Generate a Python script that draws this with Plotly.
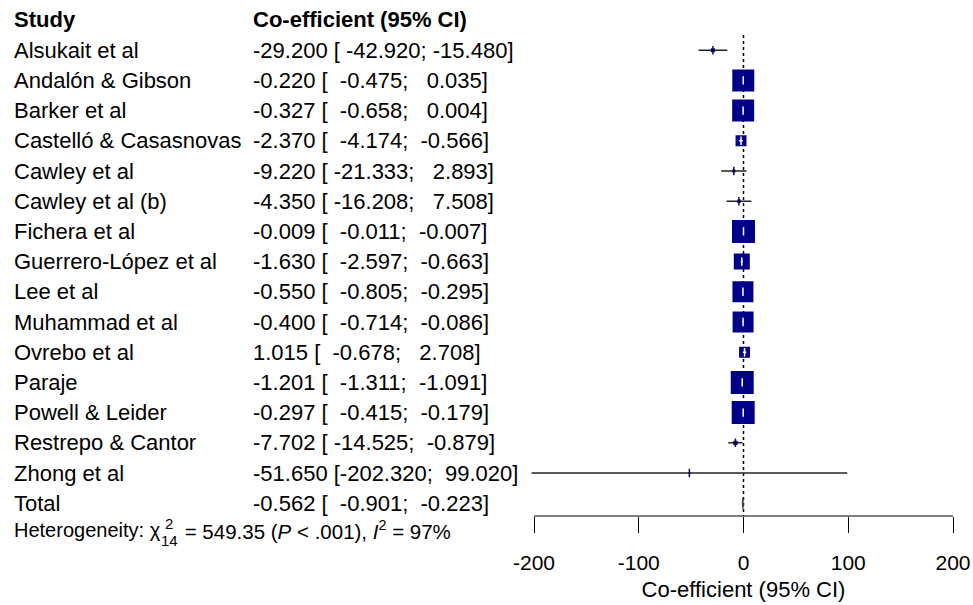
import plotly.graph_objects as go

studies = ["Alsukait et al", "Andalón & Gibson", "Barker et al", "Castelló & Casasnovas",
           "Cawley et al", "Cawley et al (b)", "Fichera et al", "Guerrero-López et al",
           "Lee et al", "Muhammad et al", "Ovrebo et al", "Paraje", "Powell & Leider",
           "Restrepo & Cantor", "Zhong et al"]
est = [-29.200, -0.220, -0.327, -2.370, -9.220, -4.350, -0.009, -1.630,
       -0.550, -0.400, 1.015, -1.201, -0.297, -7.702, -51.650]
lower = [-42.920, -0.475, -0.658, -4.174, -21.333, -16.208, -0.011, -2.597,
         -0.805, -0.714, -0.678, -1.311, -0.415, -14.525, -202.320]
upper = [-15.480, 0.035, 0.004, -0.566, 2.893, 7.508, -0.007, -0.663,
         -0.295, -0.086, 2.708, -1.091, -0.179, -0.879, 99.020]
weights = [0.4, 12.1, 12.1, 3.0, 0.25, 0.3, 13.2, 6.4, 11.0, 11.0, 3.0, 13.2, 13.2, 0.45, 0.05]
total = {"est": -0.562, "lower": -0.901, "upper": -0.223}
x_ticks = [-200, -100, 0, 100, 200]
x_ticktext = ["-200", "-100", "0", "100", "200"]
header = ["Study", "Co-efficient (95% CI)"]
x_title = "Co-efficient (95% CI)"

W, H = 973, 605
ROW0_PX, ROW_H = 20, 30.2
AXIS_PX = 516
NAVY = "#000088"
FONT = "Liberation Sans, Arial, sans-serif"
FS = 22

def fmt(e, l, u):
    s = f"{e:.3f} [{l:8.3f};{u:8.3f}]"
    return s.replace(" ", "\u00a0")

def px_to_paper(py):
    return (AXIS_PX - py) / AXIS_PX

nrow = len(studies)
rows = list(range(1, nrow + 1))
total_row = nrow + 1

xr = [-205, 205]
px_per_unit = (953 - 534) / 400.0
left_px = 534 + (xr[0] + 200) * px_per_unit
right_px = 953 + (xr[1] - 200) * px_per_unit

sizes = [max(2.0, 6.32 * w ** 0.5) for w in weights]

fig = go.Figure()

# CI lines (black)
for i in range(nrow):
    fig.add_trace(go.Scatter(x=[lower[i], upper[i]], y=[rows[i], rows[i]], mode="lines",
                             line=dict(color="#222222", width=1.5), hoverinfo="skip",
                             showlegend=False))
# squares
fig.add_trace(go.Scatter(x=est, y=rows, mode="markers", opacity=1,
                         marker=dict(symbol="square", size=sizes, color=NAVY, opacity=1,
                                     line=dict(width=0)),
                         showlegend=False, hoverinfo="skip"))
# white marks inside big squares / dark marks on small ones
for i in range(nrow):
    ci_px = (upper[i] - lower[i]) * px_per_unit
    if sizes[i] > 8 and ci_px < sizes[i]:
        fig.add_trace(go.Scatter(x=[lower[i], upper[i]], y=[rows[i], rows[i]], mode="lines",
                                 line=dict(color="white", width=1.5), hoverinfo="skip",
                                 showlegend=False))
        fig.add_trace(go.Scatter(x=[est[i]], y=[rows[i]], mode="markers",
                                 marker=dict(symbol="line-ns", size=6, opacity=1,
                                             line=dict(color="white", width=1.5)),
                                 hoverinfo="skip", showlegend=False))
    elif sizes[i] <= 8:
        fig.add_trace(go.Scatter(x=[est[i]], y=[rows[i]], mode="markers",
                                 marker=dict(symbol="line-ns", size=6, opacity=1,
                                             line=dict(color="#111133", width=1.5)),
                                 hoverinfo="skip", showlegend=False))

# total diamond
dh = 0.18
fig.add_trace(go.Scatter(
    x=[total["lower"], total["est"], total["upper"], total["est"], total["lower"]],
    y=[total_row, total_row - dh, total_row, total_row + dh, total_row],
    mode="lines", fill="toself", fillcolor="#444444",
    line=dict(color="#444444", width=1.5), hoverinfo="skip", showlegend=False))

# reference line at 0
fig.add_shape(type="line", x0=0, x1=0, y0=0.5, y1=(AXIS_PX - ROW0_PX) / ROW_H,
              xref="x", yref="y", line=dict(color="black", width=1.5, dash="dot"), layer="below")
# axis line
fig.add_shape(type="line", x0=x_ticks[0], x1=x_ticks[-1], y0=0, y1=0,
              xref="x", yref="paper", line=dict(color="black", width=1.2))

annotations = []
def add_text(px, py, text, size, anchor="left"):
    annotations.append(dict(x=px / W, y=px_to_paper(py), text=text, xref="paper", yref="paper",
                            showarrow=False, xanchor=anchor, yanchor="middle",
                            font=dict(family=FONT, size=size, color="black")))

def row_px(r):
    return ROW0_PX + r * ROW_H

add_text(12, row_px(0), f"<b>{header[0]}</b>", FS)
add_text(251, row_px(0), f"<b>{header[1]}</b>", FS)
for i in range(nrow):
    add_text(12, row_px(rows[i]), studies[i], FS)
    add_text(251, row_px(rows[i]), fmt(est[i], lower[i], upper[i]), FS)
add_text(12, row_px(total_row), "Total", FS)
add_text(251, row_px(total_row), fmt(total["est"], total["lower"], total["upper"]), FS)

# heterogeneity line
hy = 530
HFS = 20
add_text(12, hy, "Heterogeneity: χ", HFS)
add_text(163, hy - 7, "2", 15)
add_text(159, hy + 10, "14", 15)
add_text(177, hy, "\u00a0= 549.35 (<i>P</i> < .001), <i>I</i><sup>2</sup> = 97%", 20.5)

fig.update_layout(
    width=W, height=H,
    margin=dict(l=0, r=0, t=0, b=H - AXIS_PX, pad=0, autoexpand=False),
    plot_bgcolor="white", paper_bgcolor="white",
    annotations=annotations,
    xaxis=dict(domain=[left_px / W, right_px / W], range=xr, tickvals=x_ticks,
               ticktext=x_ticktext, automargin=False,
               ticks="outside", ticklen=16, tickwidth=1.2, tickcolor="black",
               ticklabelstandoff=12,
               showline=False, showgrid=False, zeroline=False,
               tickfont=dict(family=FONT, size=21, color="black"),
               title=dict(text=x_title, font=dict(family=FONT, size=22, color="black"),
                          standoff=8)),
    yaxis=dict(range=[(AXIS_PX - ROW0_PX) / ROW_H, -ROW0_PX / ROW_H], visible=False,
               showgrid=False, zeroline=False, automargin=False),
    showlegend=False,
)

fig.write_html("out.html", config={"displayModeBar": False},
               post_script="document.body.style.margin='0px';")
